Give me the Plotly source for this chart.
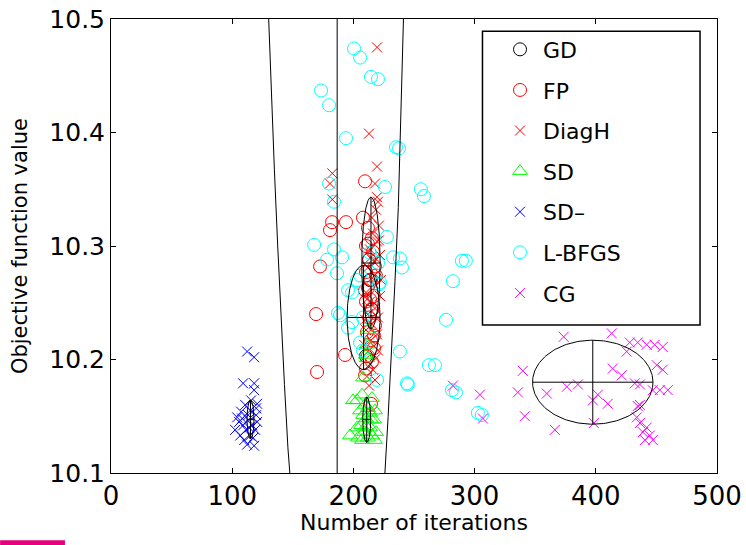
import numpy as np
import plotly.graph_objects as go

# GD (hidden under the FP markers)
gd_x = [212.9, 215.3, 210.4, 213.7]
gd_y = [10.288, 10.244, 10.203, 10.270]

# FP (red open circles)
fp_x = [209.6, 182.4, 193.9, 180.7, 207.9, 172.5, 169.2, 170.0, 193.1, 214.5, 209.6,
        212.0, 215.3, 210.4, 216.1, 212.9, 217.8, 210.4, 214.5, 212.0, 217.0, 210.4,
        215.3, 212.9, 217.8, 211.2, 214.5, 217.0, 212.0, 215.3, 210.4, 217.0, 213.7,
        209.6, 218.6, 212.0]
fp_y = [10.357, 10.321, 10.321, 10.314, 10.325, 10.282, 10.240, 10.189, 10.204, 10.161, 10.186,
        10.316, 10.307, 10.300, 10.295, 10.288, 10.282, 10.277, 10.270, 10.263, 10.256, 10.251,
        10.244, 10.237, 10.230, 10.224, 10.217, 10.210, 10.203, 10.198, 10.192, 10.221, 10.253,
        10.261, 10.274, 10.302]

# DiagH (red crosses)
dh_x = [219.5, 212.9, 219.5, 182.6, 180.7, 182.6, 217.8, 219.5, 220.3, 218.6, 215.3,
        221.1, 216.1, 219.5, 213.7, 221.9, 217.0, 212.0, 220.3, 215.3, 218.6, 210.4,
        221.9, 213.7, 217.8, 212.0, 220.3, 215.3, 210.4, 219.5, 214.5, 217.0, 212.0,
        218.6, 213.7, 216.1, 211.2, 217.8, 212.9, 220.3, 209.6, 221.1, 214.5, 211.2,
        222.7, 208.8]
dh_y = [10.475, 10.399, 10.370, 10.364, 10.355, 10.341, 10.355, 10.343, 10.339, 10.332, 10.325,
        10.318, 10.311, 10.304, 10.297, 10.292, 10.286, 10.281, 10.277, 10.272, 10.265, 10.259,
        10.256, 10.251, 10.245, 10.240, 10.237, 10.231, 10.226, 10.222, 10.217, 10.212, 10.207,
        10.201, 10.196, 10.191, 10.185, 10.182, 10.177, 10.208, 10.235, 10.305, 10.290, 10.253,
        10.270, 10.213]

# SD (green open triangles)
sd_x = [212.0, 211.2, 211.2, 208.0, 210.4, 203.0, 203.0, 197.2, 213.7, 217.8, 199.7,
        207.1, 215.3, 209.6, 205.5, 217.0, 210.4, 206.3, 213.7, 218.6, 208.8, 203.8,
        212.0, 215.3, 207.1, 217.8, 210.4, 214.5, 208.0, 212.0]
sd_y = [10.226, 10.213, 10.201, 10.184, 10.204, 10.164, 10.140, 10.133, 10.153, 10.155, 10.164,
        10.169, 10.166, 10.160, 10.155, 10.147, 10.148, 10.142, 10.140, 10.136, 10.136, 10.131,
        10.131, 10.133, 10.129, 10.129, 10.141, 10.147, 10.151, 10.157]

# SD- (blue crosses)
sdm_x = [112.3, 118.1, 109.0, 118.1, 118.1, 120.6, 104.1, 102.4, 118.1, 110.7, 114.8,
         107.4, 119.8, 113.2, 109.0, 116.5, 111.5, 118.9, 106.6, 114.8, 109.9, 117.3,
         113.2, 115.6, 105.7, 120.6, 112.3, 108.2, 119.8, 114.0]
sdm_y = [10.207, 10.202, 10.179, 10.179, 10.173, 10.161, 10.149, 10.138, 10.124, 10.160, 10.155,
         10.154, 10.151, 10.147, 10.142, 10.142, 10.138, 10.138, 10.133, 10.133, 10.129, 10.131,
         10.151, 10.164, 10.145, 10.145, 10.125, 10.148, 10.157, 10.140]

# L-BFGS (cyan open circles)
lb_x = [200.5, 205.5, 214.5, 220.3, 173.3, 179.9, 193.9, 235.1, 237.6, 179.9, 226.1,
        255.7, 258.2, 184.0, 227.7, 167.6, 184.0, 190.6, 178.3, 186.5, 213.7, 220.3,
        232.7, 238.4, 240.1, 222.0, 221.1, 195.6, 198.9, 205.5, 203.0, 187.3, 189.0,
        198.9, 195.6, 207.9, 289.5, 292.8, 282.1, 276.4, 238.4, 262.3, 267.3, 244.2,
        245.0, 281.3, 284.6, 302.7, 306.0, 219.5, 205.5, 207.9]
lb_y = [10.474, 10.466, 10.449, 10.447, 10.437, 10.424, 10.395, 10.387, 10.386, 10.355, 10.352,
        10.350, 10.344, 10.339, 10.308, 10.301, 10.297, 10.290, 10.288, 10.276, 10.294, 10.285,
        10.290, 10.289, 10.281, 10.268, 10.266, 10.261, 10.259, 10.274, 10.270, 10.241, 10.239,
        10.233, 10.228, 10.237, 10.287, 10.287, 10.269, 10.235, 10.207, 10.195, 10.195, 10.179,
        10.178, 10.173, 10.171, 10.153, 10.151, 10.182, 10.215, 10.208]

# CG (magenta crosses)
cg_x = [373.5, 413.2, 428.0, 434.6, 442.0, 448.6, 455.2, 425.5, 450.3, 455.2, 414.0,
        421.4, 339.8, 335.7, 359.6, 376.2, 385.2, 397.6, 401.7, 409.9, 432.2, 436.4,
        447.0, 452.8, 459.4, 434.6, 433.8, 436.4, 438.8, 444.5, 447.0, 440.5, 398.4,
        366.2, 341.5, 304.4, 306.9, 282.1, 436.4, 442.0]
cg_y = [10.220, 10.223, 10.215, 10.215, 10.213, 10.213, 10.211, 10.207, 10.195, 10.191, 10.192,
        10.186, 10.190, 10.171, 10.170, 10.176, 10.178, 10.164, 10.169, 10.161, 10.179, 10.178,
        10.173, 10.173, 10.173, 10.159, 10.149, 10.144, 10.136, 10.133, 10.129, 10.129, 10.144,
        10.138, 10.150, 10.169, 10.148, 10.177, 10.160, 10.140]

# fitted ellipses: centre, semi-axes
ell_cx = [214.5, 208.4, 211.0, 115.1, 186.6, 397.5]
ell_cy = [10.285, 10.237, 10.147, 10.147, 13.96, 10.180]
ell_a = [7.6, 13.6, 3.3, 2.9, 100.0, 49.7]
ell_b = [0.058, 0.046, 0.020, 0.017, 4.2, 0.037]

series = [
    ("GD", gd_x, gd_y, "circle-open", "black", 13),
    ("FP", fp_x, fp_y, "circle-open", "#ff0000", 13),
    ("DiagH", dh_x, dh_y, "x-thin-open", "#ff0000", 10),
    ("SD", sd_x, sd_y, "triangle-up-open", "#00ff00", 13),
    ("SD\u2013", sdm_x, sdm_y, "x-thin-open", "#0000ff", 10),
    ("L-BFGS", lb_x, lb_y, "circle-open", "#00ffff", 13),
    ("CG", cg_x, cg_y, "x-thin-open", "#ff00ff", 10),
]

fig = go.Figure()
for i, (name, xs, ys, sym, col, sz) in enumerate(series):
    fig.add_trace(go.Scatter(
        x=xs, y=ys, mode="markers", name=name, legendgroup=str(i),
        marker=dict(symbol=sym, size=sz, color=col, line=dict(color=col, width=1)),
    ))

t = np.linspace(0, 2 * np.pi, 200)
for cx, cy, a, b in zip(ell_cx, ell_cy, ell_a, ell_b):
    ex = list(cx + a * np.cos(t)) + [None, cx - a, cx + a, None, cx, cx]
    ey = list(cy + b * np.sin(t)) + [None, cy, cy, None, cy - b, cy + b]
    fig.add_trace(go.Scatter(x=ex, y=ey, mode="lines", showlegend=False,
                             line=dict(color="black", width=1), hoverinfo="skip"))

axis_style = dict(showline=True, linecolor="black", linewidth=1, mirror="ticks",
                  ticks="inside", ticklen=5, tickcolor="black", showgrid=False,
                  zeroline=False, automargin=False)

fig.update_layout(
    width=746, height=545,
    margin=dict(l=111, r=29, t=19, b=72),
    plot_bgcolor="white", paper_bgcolor="white",
    xaxis=dict(range=[0, 500], tickvals=[0, 100, 200, 300, 400, 500],
               tickfont=dict(family="DejaVu Sans", size=26, color="black"), **axis_style),
    yaxis=dict(range=[10.1, 10.5], tickvals=[10.1, 10.2, 10.3, 10.4, 10.5],
               tickformat=".1f",
               tickfont=dict(family="DejaVu Sans", size=25, color="black"), **axis_style),
    legend=dict(x=0.637, y=0.979, xanchor="left", yanchor="top",
                bgcolor="rgba(0,0,0,0)", borderwidth=0, tracegroupgap=9,
                itemwidth=36,
                font=dict(family="DejaVu Sans", size=22, color="black")),
    showlegend=True,
    shapes=[
        dict(type="rect", xref="paper", yref="paper", x0=0.613, x1=0.972, y0=0.326, y1=0.973,
             line=dict(color="black", width=1.5), fillcolor="white", layer="below"),
        dict(type="rect", xref="paper", yref="paper", x0=-0.183, x1=-0.076, y0=-0.159, y1=-0.148,
             line=dict(width=0), fillcolor="#e6007e"),
    ],
    annotations=[
        dict(text="Number of iterations", xref="paper", yref="paper", x=0.5, y=-0.108,
             xanchor="center", yanchor="middle", showarrow=False,
             font=dict(family="DejaVu Sans", size=22, color="black")),
        dict(text="Objective function value", xref="paper", yref="paper", x=-0.150, y=0.5,
             xanchor="center", yanchor="middle", textangle=-90, showarrow=False,
             font=dict(family="DejaVu Sans", size=21, color="black")),
    ],
)

fig.write_html("out.html", config={"displayModeBar": False},
               post_script="document.body.style.margin='0px';")
